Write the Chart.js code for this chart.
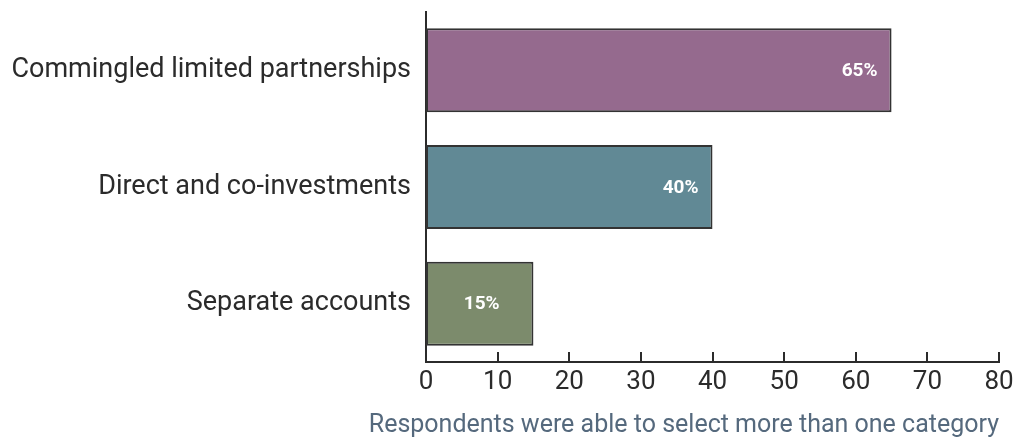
<!DOCTYPE html>
<html>
<head>
<meta charset="utf-8">
<script src="https://cdn.jsdelivr.net/npm/chart.js@4"></script>
<style>
  html, body { margin: 0; padding: 0; background: #fff; }
  #wrap { width: 1018px; height: 438px; }
</style>
</head>
<body>
<div id="wrap"><canvas id="vehicleChart" width="1018" height="438"></canvas></div>
<script>
// Categories and shares of respondents (%)
const categories = ['Commingled limited partnerships', 'Direct and co-investments', 'Separate accounts'];
const shares = [65, 40, 15];
const barColors = ['#956a8e', '#618995', '#7c8b6c'];
const xTicks = [0, 10, 20, 30, 40, 50, 60, 70, 80];
const footnote = 'Respondents were able to select more than one category';

const FONT = 'Roboto, "DejaVu Sans", sans-serif';

// Short tick marks pointing up from the x axis
const innerTicks = {
    id: 'innerTicks',
    afterDraw(chart) {
        const ctx = chart.ctx;
        const x = chart.scales.x;
        const bottom = chart.chartArea.bottom;
        ctx.save();
        ctx.strokeStyle = '#2b2b2b';
        ctx.lineWidth = 2;
        xTicks.forEach(v => {
            if (v === 0) return;
            const px = Math.round(x.getPixelForValue(v));
            ctx.beginPath();
            ctx.moveTo(px, bottom);
            ctx.lineTo(px, bottom - 10);
            ctx.stroke();
        });
        ctx.restore();
    }
};

// Percent labels inside each bar: near the end, or centred on short bars
const valueLabels = {
    id: 'valueLabels',
    afterDatasetsDraw(chart) {
        const ctx = chart.ctx;
        const meta = chart.getDatasetMeta(0);
        ctx.save();
        ctx.font = 'bold 19px ' + FONT;
        ctx.fillStyle = '#ffffff';
        ctx.textBaseline = 'middle';
        ctx.textAlign = 'center';
        meta.data.forEach((bar, i) => {
            const text = shares[i] + '%';
            const w = ctx.measureText(text).width;
            const len = bar.x - bar.base;
            const cx = len < w * 3 ? (bar.base + bar.x) / 2 + 2 : bar.x - 14 - w / 2;
            ctx.fillText(text, cx, bar.y + 1);
        });
        ctx.restore();
    }
};

new Chart(document.getElementById('vehicleChart').getContext('2d'), {
    type: 'bar',
    data: {
        labels: categories,
        datasets: [{
            data: shares,
            backgroundColor: barColors,
            borderColor: '#333333',
            borderWidth: 2,
            borderSkipped: false,
            barPercentage: 0.72,
            categoryPercentage: 1.0
        }]
    },
    options: {
        indexAxis: 'y',
        responsive: false,
        animation: false,
        layout: { padding: { top: 12, right: 19, left: 0, bottom: 0 } },
        plugins: {
            legend: { display: false },
            tooltip: { enabled: false },
            title: {
                display: true,
                text: footnote,
                position: 'bottom',
                align: 'end',
                color: '#55697d',
                font: { family: FONT, size: 25, weight: 'normal', lineHeight: 1.0 },
                padding: { top: 11, bottom: 0 }
            }
        },
        scales: {
            x: {
                min: 0,
                max: 80,
                afterBuildTicks: scale => { scale.ticks = xTicks.map(v => ({ value: v })); },
                afterFit: scale => { scale.paddingLeft = 0; scale.paddingRight = 0; },
                grid: { display: false, drawTicks: false },
                border: { display: true, color: '#2b2b2b', width: 2 },
                ticks: {
                    color: '#2b2b2b',
                    padding: 7,
                    font: { family: FONT, size: 26, lineHeight: 1.0 }
                }
            },
            y: {
                grid: { display: false, drawTicks: false },
                border: { display: true, color: '#2b2b2b', width: 2 },
                afterFit: scale => {
                    scale.width = 426;
                    scale.paddingTop = 0;
                    scale.paddingBottom = 0;
                },
                ticks: {
                    color: '#2b2b2b',
                    padding: 15,
                    font: { family: FONT, size: 27 }
                }
            }
        }
    },
    plugins: [innerTicks, valueLabels]
});
</script>
</body>
</html>
